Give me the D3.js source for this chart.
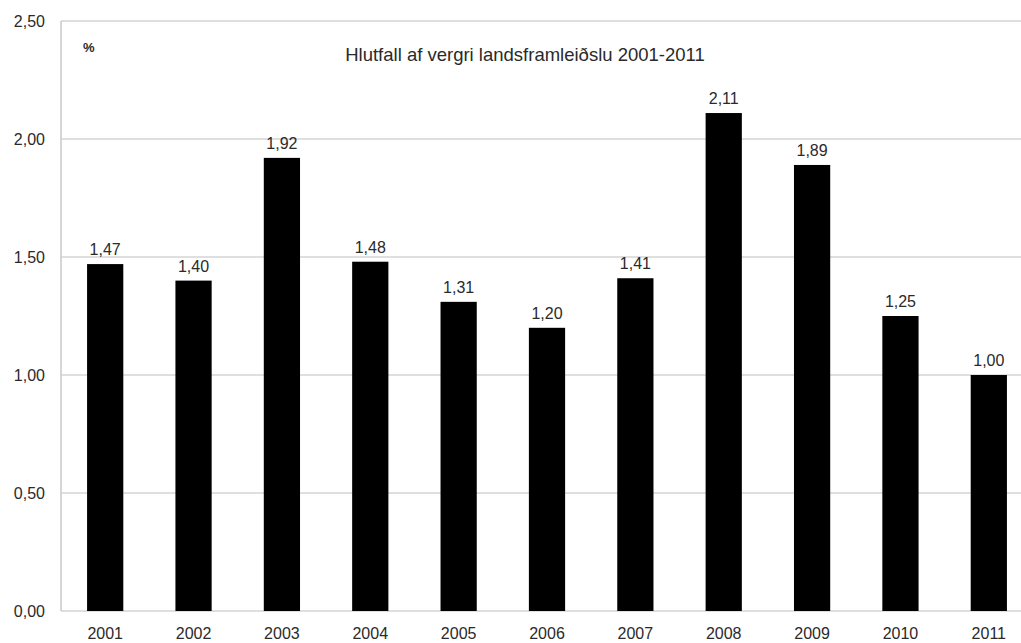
<!DOCTYPE html>
<html>
<head>
<meta charset="utf-8">
<script src="https://cdn.jsdelivr.net/npm/d3@7"></script>
<style>
  body { margin: 0; background: #fff; }
  text { font-family: "Liberation Sans", Arial, sans-serif; fill: #2a2a2a; }
</style>
</head>
<body>
<div id="chart"></div>
<script>
// data
const years = ["2001","2002","2003","2004","2005","2006","2007","2008","2009","2010","2011"];
const values = [1.47, 1.40, 1.92, 1.48, 1.31, 1.20, 1.41, 2.11, 1.89, 1.25, 1.00];
const yTicks = [0, 0.5, 1, 1.5, 2, 2.5];
const title = "Hlutfall af vergri landsframleiðslu 2001-2011";

const W = 1021, H = 643;
const margin = {top: 21, left: 61, bottom: 32};
const plotBottom = H - margin.bottom; // 611

const svg = d3.select("#chart").append("svg")
  .attr("width", W)
  .attr("height", H);

const fmt = v => d3.format(".2f")(v).replace(".", ",");

// x scale, last band runs off the right edge like the original
const x = d3.scaleBand()
  .domain(years)
  .range([margin.left, 1033])
  .paddingInner(0.59)
  .paddingOuter(0.295);

const y = d3.scaleLinear()
  .domain([0, 2.5])
  .range([plotBottom, margin.top]);

// gridlines
svg.append("g")
  .selectAll("line")
  .data(yTicks)
  .enter()
  .append("line")
    .attr("x1", margin.left)
    .attr("x2", W)
    .attr("y1", d => y(d))
    .attr("y2", d => y(d))
    .attr("stroke", "#d4d4d4")
    .attr("stroke-width", 1.5);

// left axis line
svg.append("line")
  .attr("x1", margin.left).attr("x2", margin.left)
  .attr("y1", y(2.5)).attr("y2", y(0))
  .attr("stroke", "#c8c8c8")
  .attr("stroke-width", 1.5);

// y tick labels
svg.append("g")
  .selectAll("text")
  .data(yTicks)
  .enter()
  .append("text")
    .attr("x", 45)
    .attr("y", d => y(d) + 6)
    .attr("text-anchor", "end")
    .style("font-size", "16px")
    .text(d => fmt(d));

// bars
svg.append("g")
  .selectAll("rect")
  .data(values)
  .enter()
  .append("rect")
    .attr("x", (d, i) => x(years[i]))
    .attr("width", x.bandwidth())
    .attr("y", d => y(d))
    .attr("height", d => y(0) - y(d))
    .attr("fill", "#000");

// value labels
svg.append("g")
  .selectAll("text")
  .data(values)
  .enter()
  .append("text")
    .attr("x", (d, i) => x(years[i]) + x.bandwidth() / 2)
    .attr("y", d => y(d) - 9)
    .attr("text-anchor", "middle")
    .style("font-size", "16px")
    .text(d => fmt(d));

// year labels
svg.append("g")
  .selectAll("text")
  .data(years)
  .enter()
  .append("text")
    .attr("x", d => x(d) + x.bandwidth() / 2)
    .attr("y", 639)
    .attr("text-anchor", "middle")
    .style("font-size", "16px")
    .text(d => d);

// title and unit
svg.append("text")
  .attr("x", 525)
  .attr("y", 61)
  .attr("text-anchor", "middle")
  .style("font-size", "18.5px")
  .text(title);

svg.append("text")
  .attr("x", 83)
  .attr("y", 52)
  .style("font-size", "13px")
  .style("font-weight", "bold")
  .text("%");
</script>
</body>
</html>
